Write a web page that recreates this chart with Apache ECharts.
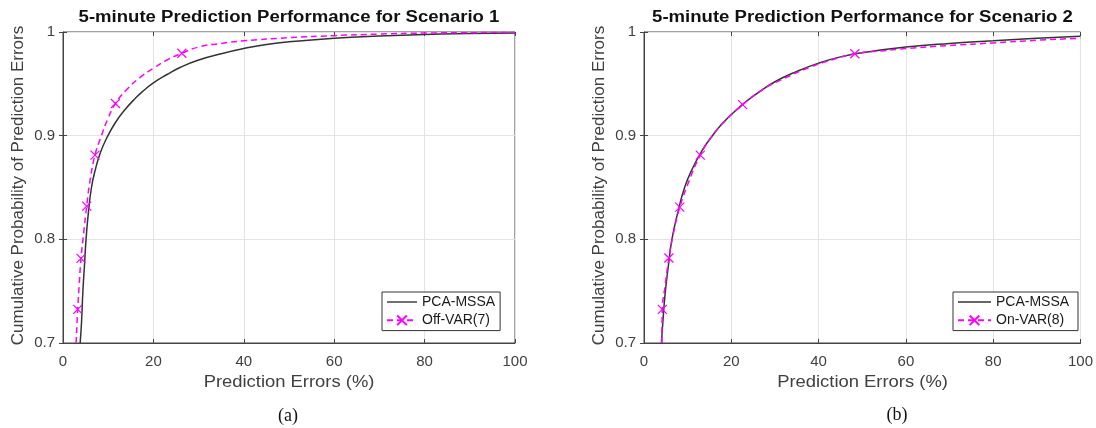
<!DOCTYPE html>
<html style="height: 100%">
	<head>
		<meta charset="utf-8">
	</head>
	<body style="height: 100%; margin: 0; background: #fff">
		<div id="container" style="width: 1096px; height: 428px"></div>

		<script type="text/javascript" src="https://cdn.jsdelivr.net/npm/echarts@6/dist/echarts.min.js"></script>
		<script type="text/javascript">
			var dom = document.getElementById("container");
			var myChart = echarts.init(dom, null, { renderer: 'canvas' });

			// x ticks / y ticks
			const xTicks = [0, 20, 40, 60, 80, 100];
			const yTicks = [0.7, 0.8, 0.9, 1];

			// scenario 1: [prediction error %, cumulative probability]
			const pcaMssa1 = [
				[3.8, 0.7], [4.1, 0.72], [4.4, 0.75], [4.75, 0.775], [5.1, 0.8],
				[5.6, 0.825], [6.3, 0.85], [7.2, 0.868], [8.3, 0.884], [9.7, 0.898],
				[11.5, 0.912], [13.5, 0.924], [16, 0.936], [18, 0.944], [20, 0.951],
				[23, 0.959], [26, 0.966], [30, 0.973], [35, 0.979], [40, 0.984],
				[45, 0.988], [50, 0.9905], [60, 0.994], [70, 0.9962], [80, 0.9977],
				[90, 0.9985], [100, 0.999]
			];
			const offVar7 = [
				[2.9, 0.7], [3.6, 0.757], [4.6, 0.807], [6.0, 0.857], [8.5, 0.9],
				[9.9, 0.916], [14, 0.944], [17, 0.956], [20, 0.965], [23, 0.973],
				[30, 0.9855], [35, 0.989], [40, 0.9915], [50, 0.9945], [60, 0.9965],
				[70, 0.998], [80, 0.999], [100, 0.9995]
			];
			const offVar7Marks = [
				[3.25, 0.7325], [3.98, 0.7817], [5.24, 0.832], [7.08, 0.8813],
				[11.6, 0.931], [26.3, 0.9795]
			];

			// scenario 2
			const pcaMssa2 = [
				[4.0, 0.7], [4.4, 0.725], [4.9, 0.75], [5.6, 0.775], [6.4, 0.8],
				[7.7, 0.825], [9.3, 0.85], [11.3, 0.87], [13.5, 0.887], [15.5, 0.899],
				[18, 0.912], [22, 0.928], [26, 0.941], [30, 0.952], [35, 0.962],
				[40, 0.97], [45, 0.976], [50, 0.98], [60, 0.9855], [70, 0.989],
				[80, 0.9915], [90, 0.994], [100, 0.996]
			];
			const onVar8 = [
				[4.1, 0.7], [4.9, 0.757], [6.8, 0.807], [10.3, 0.856], [15.5, 0.899],
				[18.5, 0.914], [27, 0.944], [32, 0.955], [38, 0.966], [43, 0.973],
				[55, 0.982], [60, 0.984], [70, 0.987], [80, 0.9895], [90, 0.992],
				[100, 0.994]
			];
			const onVar8Marks = [
				[4.2, 0.7325], [5.7, 0.782], [8.2, 0.831], [12.9, 0.8813],
				[22.6, 0.93], [48.3, 0.979]
			];

			const titles = [
				'5-minute Prediction Performance for Scenario 1',
				'5-minute Prediction Performance for Scenario 2'
			];
			const xName = 'Prediction Errors (%)';
			const yName = 'Cumulative Probability of Prediction Errors';
			const panelLabels = ['(a)', '(b)'];

			const grids = [
				{ left: 63, top: 32, width: 452, height: 311 },
				{ left: 644, top: 32, width: 437, height: 311 }
			];

			const crossPath = 'path://M0,0L10,10M0,10L10,0';
			const axisColor = '#444';
			const labelColor = '#404040';
			const font = '"Liberation Sans", Arial, sans-serif';

			// merge curve points (no symbol) with marker points
			function withMarks(curve, marks) {
				var items = curve.map(function (p) {
					return { value: p, symbol: 'none' };
				});
				marks.forEach(function (p) {
					items.push({ value: p });
				});
				items.sort(function (a, b) { return a.value[1] - b.value[1]; });
				return items;
			}

			function xAxisFor(i) {
				return [{
					gridIndex: i,
					type: 'value',
					min: xTicks[0],
					max: xTicks[xTicks.length - 1],
					interval: 20,
					axisLine: { lineStyle: { color: axisColor } },
					axisTick: { inside: true, length: 4, lineStyle: { color: axisColor } },
					axisLabel: { fontSize: 15, color: labelColor, margin: 11, fontFamily: font },
					splitLine: { show: true, lineStyle: { color: '#e3e3e3' } }
				}, {
					gridIndex: i,
					type: 'value',
					position: 'top',
					min: 0, max: 100, interval: 20,
					axisLine: { show: false },
					axisTick: { inside: true, length: 4, lineStyle: { color: axisColor } },
					axisLabel: { show: false },
					splitLine: { show: false }
				}];
			}

			function yAxisFor(i) {
				return [{
					gridIndex: i,
					type: 'value',
					min: yTicks[0],
					max: yTicks[yTicks.length - 1],
					interval: 0.1,
					axisLine: { show: true, lineStyle: { color: axisColor } },
					axisTick: { show: true, inside: true, length: 4, lineStyle: { color: axisColor } },
					axisLabel: {
						fontSize: 15, color: labelColor, margin: 8, fontFamily: font,
						formatter: function (v) { return String(+v.toFixed(1)); }
					},
					splitLine: { show: true, lineStyle: { color: '#e3e3e3' } }
				}, {
					gridIndex: i,
					type: 'value',
					position: 'right',
					min: 0.7, max: 1, interval: 0.1,
					axisLine: { show: false },
					axisTick: { show: true, inside: true, length: 4, lineStyle: { color: axisColor } },
					axisLabel: { show: false },
					splitLine: { show: false }
				}];
			}

			function blackSeries(name, i, data) {
				return {
					type: 'line',
					name: name,
					xAxisIndex: i * 2,
					yAxisIndex: i * 2,
					data: data,
					symbol: 'none',
					smooth: 0.5,
					lineStyle: { color: '#333', width: 1.5 },
					itemStyle: { color: '#333' },
					z: 3
				};
			}

			function magentaSeries(name, i, curve, marks) {
				return {
					type: 'line',
					name: name,
					xAxisIndex: i * 2,
					yAxisIndex: i * 2,
					data: withMarks(curve, marks),
					symbol: crossPath,
					symbolSize: 9,
					showAllSymbol: true,
					smooth: 0.5,
					lineStyle: { color: '#ff00ff', width: 1.5, type: [6, 4] },
					itemStyle: { color: 'none', borderColor: '#ff00ff', borderWidth: 1.2 },
					z: 4
				};
			}

			function legendFor(left, names, itemWidth) {
				return {
					left: left,
					top: 292,
					orient: 'vertical',
					data: [
						{ name: names[0], icon: 'path://M0,0H30V1.4H0Z' },
						{ name: names[1] }
					],
					padding: [3, 5, 3, 4],
					itemGap: 4,
					itemWidth: itemWidth,
					itemHeight: 12,
					borderColor: '#333',
					borderWidth: 1,
					borderRadius: 0,
					backgroundColor: '#fff',
					selectedMode: false,
					textStyle: { fontSize: 14, color: '#1a1a1a', fontFamily: font }
				};
			}

			var graphics = [];
			grids.forEach(function (g, i) {
				var cx = g.left + g.width / 2;
				graphics.push({
					type: 'text',
					x: cx, y: 18, scaleX: 1.16,
					style: {
						text: titles[i], fill: '#111',
						font: 'bold 16px ' + font,
						textAlign: 'center', textVerticalAlign: 'middle'
					}
				});
				graphics.push({
					type: 'text',
					x: cx, y: 383, scaleX: 1.15,
					style: {
						text: xName, fill: labelColor,
						font: '16px ' + font,
						textAlign: 'center', textVerticalAlign: 'middle'
					}
				});
				graphics.push({
					type: 'text',
					x: g.left - 45, y: g.top + g.height / 2 - 2, rotation: Math.PI / 2,
					style: {
						text: yName, fill: labelColor,
						font: '17px ' + font,
						textAlign: 'center', textVerticalAlign: 'middle'
					}
				});
			});
			graphics.push({
				type: 'text', x: 288, y: 416,
				style: { text: panelLabels[0], fill: '#111', font: '18px "Liberation Serif"', textAlign: 'center', textVerticalAlign: 'middle' }
			});
			graphics.push({
				type: 'text', x: 897, y: 415,
				style: { text: panelLabels[1], fill: '#111', font: '18px "Liberation Serif"', textAlign: 'center', textVerticalAlign: 'middle' }
			});

			var option = {
				animation: false,
				backgroundColor: '#fff',
				grid: grids.map(function (g) {
					return Object.assign({ show: true, borderColor: axisColor, borderWidth: 1, backgroundColor: 'transparent' }, g);
				}),
				xAxis: xAxisFor(0).concat(xAxisFor(1)),
				yAxis: yAxisFor(0).concat(yAxisFor(1)),
				legend: [
					legendFor(382, ['PCA-MSSA', 'Off-VAR(7)'], 30),
					legendFor(953, ['PCA-MSSA ', 'On-VAR(8)'], 33)
				],
				series: [
					blackSeries('PCA-MSSA', 0, pcaMssa1),
					magentaSeries('Off-VAR(7)', 0, offVar7, offVar7Marks),
					blackSeries('PCA-MSSA ', 1, pcaMssa2),
					magentaSeries('On-VAR(8)', 1, onVar8, onVar8Marks)
				],
				graphic: graphics
			};

			if (option && typeof option === 'object') {
				myChart.setOption(option);
			}
		</script>
	</body>
</html>
